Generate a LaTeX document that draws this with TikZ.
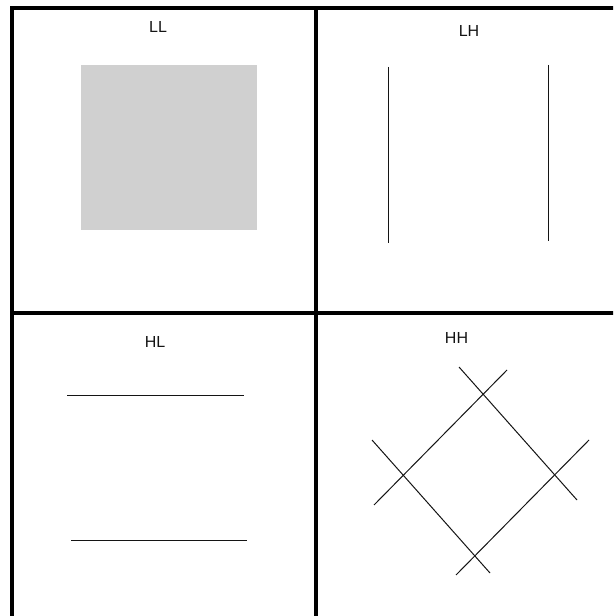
\documentclass[tikz,border=0pt]{standalone}
\usepackage{fontspec}
\setmainfont{Liberation Sans}
\usepackage{xcolor}
\definecolor{cBlock}{RGB}{208, 208, 208}
\definecolor{tDark}{RGB}{20, 20, 20}

\begin{document}
\begin{tikzpicture}[
    x=0.75pt, y=-0.75pt,
    font=\fontsize{12}{14}\selectfont,
    frame/.style={line width=2.5pt, color=black},
    edge/.style={line width=0.75pt, color=tDark},
    band/.style={text=tDark, inner sep=0pt}
]

\useasboundingbox (0,0) rectangle (613,616);
\clip (0,0) rectangle (613,616);

% quadrant grid
\draw[frame] (12,8) rectangle (620,618);
\draw[frame] (316,8) -- (316,618);
\draw[frame] (12,313) -- (620,313);

% sub-band labels
\node[band] (ll) at (158,27.5) {LL};
\node[band] (lh) at (469,31) {LH};
\node[band] (hl) at (155,342) {HL};
\node[band] (hh) at (456.5,337.5) {HH};

% LL: smooth block
\fill[cBlock] (81,65) rectangle (257,230);

% LH: vertical edges
\draw[edge] (388,67) -- (388,243);
\draw[edge] (548,65) -- (548,241);

% HL: horizontal edges
\draw[edge] (67,395) -- (244,395);
\draw[edge] (71,540) -- (247,540);

% HH: diagonal edges
\draw[edge] (459,367) -- (577,500);
\draw[edge] (507,370) -- (374,505);
\draw[edge] (372,440) -- (490,573);
\draw[edge] (589,440) -- (456,575);

\end{tikzpicture}
\end{document}
